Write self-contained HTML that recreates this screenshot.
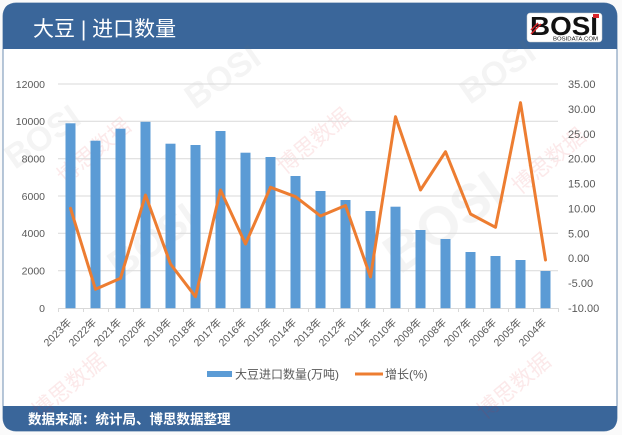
<!DOCTYPE html>
<html><head><meta charset="utf-8"><style>
html,body{margin:0;padding:0;background:#fafafa;}
svg{display:block;}
text{font-family:"Liberation Sans","Noto Sans CJK SC",sans-serif;}
</style></head><body>
<svg width="622" height="435" viewBox="0 0 622 435" xmlns="http://www.w3.org/2000/svg">
<!-- card -->
<rect x="3" y="3" width="614" height="428" rx="13" ry="13" fill="#ffffff" stroke="#6f8fb3" stroke-width="1"/>
<!-- header -->
<path d="M3,49 L3,16 Q3,3 16,3 L604,3 Q617,3 617,16 L617,49 Z" fill="#3a669a"/>
<!-- footer -->
<path d="M3,406 L617,406 L617,418 Q617,431 604,431 L16,431 Q3,431 3,418 Z" fill="#3a669a"/>
<text x="33" y="36" font-size="21" fill="#ffffff">大豆 | 进口数量</text>
<!-- logo -->
<rect x="527" y="13" width="75" height="29" rx="3" fill="#ffffff" stroke="#cccccc" stroke-width="0.5"/>
<text x="530" y="35" font-size="26" font-weight="bold" fill="#111111" textLength="68" lengthAdjust="spacingAndGlyphs">BOSI</text>
<rect x="593" y="14" width="6" height="4" fill="#d9252a"/>
<path d="M531,30 L538,23 M531,34 L541,24" stroke="#d9252a" stroke-width="1.5"/>
<text x="553" y="40.5" font-size="5" fill="#111111" textLength="45" lengthAdjust="spacingAndGlyphs">BOSIDATA.COM</text>

<!-- watermarks -->
<g opacity="0.08" fill="#777777" font-weight="bold">
<text transform="translate(195,110) rotate(-35)" font-size="34">BOSI</text>
<text transform="translate(470,105) rotate(-35)" font-size="34">BOSI</text>
<text transform="translate(400,275) rotate(-35)" font-size="54">BOSI</text>
<text transform="translate(15,170) rotate(-35)" font-size="34">BOSI</text>
<text transform="translate(120,280) rotate(-35)" font-size="40">BOSI</text>
</g>
<g opacity="0.10" fill="#d9252a">
<text transform="translate(65,185) rotate(-40)" font-size="22">博思数据</text>
<text transform="translate(285,175) rotate(-40)" font-size="22">博思数据</text>
<text transform="translate(520,195) rotate(-40)" font-size="22">博思数据</text>
<text transform="translate(40,420) rotate(-40)" font-size="22">博思数据</text>
<text transform="translate(485,420) rotate(-40)" font-size="22">博思数据</text>
</g>

<!-- gridlines -->
<g stroke="#d9d9d9" stroke-width="1">
<line x1="58" y1="84" x2="558" y2="84"/>
<line x1="58" y1="121.3" x2="558" y2="121.3"/>
<line x1="58" y1="158.7" x2="558" y2="158.7"/>
<line x1="58" y1="196" x2="558" y2="196"/>
<line x1="58" y1="233.3" x2="558" y2="233.3"/>
<line x1="58" y1="270.7" x2="558" y2="270.7"/>
<line x1="58" y1="308.5" x2="558" y2="308.5"/>
</g>
<!-- x ticks -->
<g stroke="#d9d9d9" stroke-width="1">
<line x1="58.5" y1="308" x2="58.5" y2="312"/><line x1="83.5" y1="308" x2="83.5" y2="312"/><line x1="108.5" y1="308" x2="108.5" y2="312"/><line x1="133.5" y1="308" x2="133.5" y2="312"/><line x1="158.5" y1="308" x2="158.5" y2="312"/><line x1="183.5" y1="308" x2="183.5" y2="312"/><line x1="208.5" y1="308" x2="208.5" y2="312"/><line x1="233.5" y1="308" x2="233.5" y2="312"/><line x1="258.5" y1="308" x2="258.5" y2="312"/><line x1="283.5" y1="308" x2="283.5" y2="312"/><line x1="308.5" y1="308" x2="308.5" y2="312"/><line x1="333.5" y1="308" x2="333.5" y2="312"/><line x1="358.5" y1="308" x2="358.5" y2="312"/><line x1="383.5" y1="308" x2="383.5" y2="312"/><line x1="408.5" y1="308" x2="408.5" y2="312"/><line x1="433.5" y1="308" x2="433.5" y2="312"/><line x1="458.5" y1="308" x2="458.5" y2="312"/><line x1="483.5" y1="308" x2="483.5" y2="312"/><line x1="508.5" y1="308" x2="508.5" y2="312"/><line x1="533.5" y1="308" x2="533.5" y2="312"/><line x1="558.5" y1="308" x2="558.5" y2="312"/>
</g>

<!-- left axis labels -->
<g font-size="10.5" fill="#595959" text-anchor="end">
<text x="45" y="87.8">12000</text>
<text x="45" y="125.1">10000</text>
<text x="45" y="162.5">8000</text>
<text x="45" y="199.8">6000</text>
<text x="45" y="237.1">4000</text>
<text x="45" y="274.5">2000</text>
<text x="45" y="311.8">0</text>
</g>
<!-- right axis labels -->
<g font-size="11" fill="#595959">
<text x="568" y="88">35.00</text>
<text x="568" y="112.9">30.00</text>
<text x="568" y="137.8">25.00</text>
<text x="568" y="162.7">20.00</text>
<text x="568" y="187.6">15.00</text>
<text x="568" y="212.4">10.00</text>
<text x="568" y="237.3">5.00</text>
<text x="568" y="262.2">0.00</text>
<text x="568" y="287.1">-5.00</text>
<text x="568" y="312">-10.00</text>
</g>

<!-- bars -->
<g fill="#5b9bd5">
<rect x="65.5" y="123.3" width="10" height="184.9"/>
<rect x="90.5" y="140.7" width="10" height="167.5"/>
<rect x="115.5" y="128.7" width="10" height="179.5"/>
<rect x="140.5" y="121.8" width="10" height="186.4"/>
<rect x="165.5" y="143.7" width="10" height="164.5"/>
<rect x="190.5" y="145" width="10" height="163.2"/>
<rect x="215.5" y="131" width="10" height="177.2"/>
<rect x="240.5" y="152.7" width="10" height="155.5"/>
<rect x="265.5" y="157" width="10" height="151.2"/>
<rect x="290.5" y="176" width="10" height="132.2"/>
<rect x="315.5" y="191" width="10" height="117.2"/>
<rect x="340.5" y="200" width="10" height="108.2"/>
<rect x="365.5" y="211" width="10" height="97.2"/>
<rect x="390.5" y="206.7" width="10" height="101.5"/>
<rect x="415.5" y="230" width="10" height="78.2"/>
<rect x="440.5" y="239" width="10" height="69.2"/>
<rect x="465.5" y="252" width="10" height="56.2"/>
<rect x="490.5" y="256" width="10" height="52.2"/>
<rect x="515.5" y="260" width="10" height="48.2"/>
<rect x="540.5" y="271" width="10" height="37.2"/>
</g>

<!-- line -->
<polyline fill="none" stroke="#ed7d31" stroke-width="3" stroke-linejoin="round" stroke-linecap="round"
points="70.5,208.3 95.5,289.3 120.5,278.3 145.5,195 170.5,264 195.5,296.7 220.5,190 245.5,244 270.5,187.3 295.5,196.7 320.5,216 345.5,205.5 370.5,277 395.5,116.7 420.5,190 445.5,151.7 470.5,214 495.5,227.3 520.5,102.7 545.5,260"/>

<!-- x labels -->
<g font-size="10.5" fill="#595959" text-anchor="end">
<text transform="translate(72,323) rotate(-45)">2023年</text>
<text transform="translate(97,323) rotate(-45)">2022年</text>
<text transform="translate(122,323) rotate(-45)">2021年</text>
<text transform="translate(147,323) rotate(-45)">2020年</text>
<text transform="translate(172,323) rotate(-45)">2019年</text>
<text transform="translate(197,323) rotate(-45)">2018年</text>
<text transform="translate(222,323) rotate(-45)">2017年</text>
<text transform="translate(247,323) rotate(-45)">2016年</text>
<text transform="translate(272,323) rotate(-45)">2015年</text>
<text transform="translate(297,323) rotate(-45)">2014年</text>
<text transform="translate(322,323) rotate(-45)">2013年</text>
<text transform="translate(347,323) rotate(-45)">2012年</text>
<text transform="translate(372,323) rotate(-45)">2011年</text>
<text transform="translate(397,323) rotate(-45)">2010年</text>
<text transform="translate(422,323) rotate(-45)">2009年</text>
<text transform="translate(447,323) rotate(-45)">2008年</text>
<text transform="translate(472,323) rotate(-45)">2007年</text>
<text transform="translate(497,323) rotate(-45)">2006年</text>
<text transform="translate(522,323) rotate(-45)">2005年</text>
<text transform="translate(547,323) rotate(-45)">2004年</text>
</g>

<!-- legend -->
<rect x="207" y="371" width="25" height="6" fill="#5b9bd5"/>
<text x="235" y="378.5" font-size="12" fill="#595959">大豆进口数量(万吨)</text>
<line x1="355" y1="374" x2="383" y2="374" stroke="#ed7d31" stroke-width="3"/>
<text x="385" y="378.5" font-size="12" fill="#595959">增长(%)</text>

<!-- footer text -->
<text x="28" y="424" font-size="13.5" font-weight="bold" fill="#ffffff">数据来源：统计局、博思数据整理</text>
</svg>
</body></html>
